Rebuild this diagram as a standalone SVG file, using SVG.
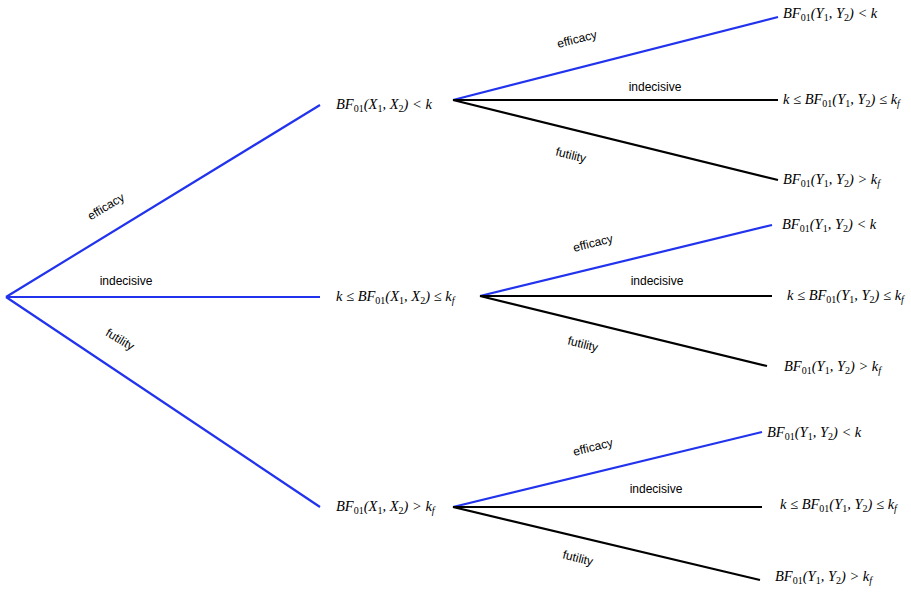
<svg xmlns="http://www.w3.org/2000/svg" width="911" height="593" viewBox="0 0 911 593">
<style>
.b{stroke:#2233ee;stroke-width:2.2;fill:none}
.k{stroke:#000;stroke-width:2.2;fill:none}
.m{font-family:"Liberation Serif",serif;font-style:italic;font-size:14.5px;fill:#000}
.s{font-size:10px;font-style:normal}
.f{font-size:10px}
.l{font-family:"Liberation Sans",Arial,sans-serif;font-size:12px;fill:#000;text-anchor:middle}
</style>
<rect width="911" height="593" fill="#fff"/>
<g id="connectors">
<path class="b" d="M6 297L320 105M6 297H320M6 297L320 507"/>
<path class="b" d="M453 100L778 17"/><path class="k" d="M453 100H778M453 100L778 180"/>
<path class="b" d="M480 296L772 225"/><path class="k" d="M480 296H772M480 296L767 366"/>
<path class="b" d="M453 507L762 432"/><path class="k" d="M453 507H762M453 507L760 580"/>
<text class="l" transform="translate(108,210) rotate(-31)">efficacy</text>
<text class="l" x="126" y="285">indecisive</text>
<text class="l" transform="translate(118,343) rotate(31)">futility</text>
<text class="l" transform="translate(578,43) rotate(-14)">efficacy</text>
<text class="l" x="655" y="91">indecisive</text>
<text class="l" transform="translate(570,159) rotate(14)">futility</text>
<text class="l" transform="translate(594,247) rotate(-14)">efficacy</text>
<text class="l" x="657" y="285">indecisive</text>
<text class="l" transform="translate(582,348) rotate(14)">futility</text>
<text class="l" transform="translate(594,451) rotate(-14)">efficacy</text>
<text class="l" x="656" y="493">indecisive</text>
<text class="l" transform="translate(577,562) rotate(14)">futility</text>
</g>
<g id="n1"><text class="m" x="336" y="109">BF<tspan class="s" dy="3">01</tspan><tspan dy="-3">(X</tspan><tspan class="s" dy="3">1</tspan><tspan dy="-3">, X</tspan><tspan class="s" dy="3">2</tspan><tspan dy="-3">) &lt; k</tspan></text></g>
<g id="n2"><text class="m" x="336" y="301">k ≤ BF<tspan class="s" dy="3">01</tspan><tspan dy="-3">(X</tspan><tspan class="s" dy="3">1</tspan><tspan dy="-3">, X</tspan><tspan class="s" dy="3">2</tspan><tspan dy="-3">) ≤ k</tspan><tspan class="f" dy="3">f</tspan></text></g>
<g id="n3"><text class="m" x="336" y="511">BF<tspan class="s" dy="3">01</tspan><tspan dy="-3">(X</tspan><tspan class="s" dy="3">1</tspan><tspan dy="-3">, X</tspan><tspan class="s" dy="3">2</tspan><tspan dy="-3">) &gt; k</tspan><tspan class="f" dy="3">f</tspan></text></g>
<g id="l1a"><text class="m" x="783" y="18">BF<tspan class="s" dy="3">01</tspan><tspan dy="-3">(Y</tspan><tspan class="s" dy="3">1</tspan><tspan dy="-3">, Y</tspan><tspan class="s" dy="3">2</tspan><tspan dy="-3">) &lt; k</tspan></text></g>
<g id="l1b"><text class="m" x="783" y="104">k ≤ BF<tspan class="s" dy="3">01</tspan><tspan dy="-3">(Y</tspan><tspan class="s" dy="3">1</tspan><tspan dy="-3">, Y</tspan><tspan class="s" dy="3">2</tspan><tspan dy="-3">) ≤ k</tspan><tspan class="f" dy="3">f</tspan></text></g>
<g id="l1c"><text class="m" x="783" y="184">BF<tspan class="s" dy="3">01</tspan><tspan dy="-3">(Y</tspan><tspan class="s" dy="3">1</tspan><tspan dy="-3">, Y</tspan><tspan class="s" dy="3">2</tspan><tspan dy="-3">) &gt; k</tspan><tspan class="f" dy="3">f</tspan></text></g>
<g id="l2a"><text class="m" x="782" y="229">BF<tspan class="s" dy="3">01</tspan><tspan dy="-3">(Y</tspan><tspan class="s" dy="3">1</tspan><tspan dy="-3">, Y</tspan><tspan class="s" dy="3">2</tspan><tspan dy="-3">) &lt; k</tspan></text></g>
<g id="l2b"><text class="m" x="787" y="300">k ≤ BF<tspan class="s" dy="3">01</tspan><tspan dy="-3">(Y</tspan><tspan class="s" dy="3">1</tspan><tspan dy="-3">, Y</tspan><tspan class="s" dy="3">2</tspan><tspan dy="-3">) ≤ k</tspan><tspan class="f" dy="3">f</tspan></text></g>
<g id="l2c"><text class="m" x="784" y="371">BF<tspan class="s" dy="3">01</tspan><tspan dy="-3">(Y</tspan><tspan class="s" dy="3">1</tspan><tspan dy="-3">, Y</tspan><tspan class="s" dy="3">2</tspan><tspan dy="-3">) &gt; k</tspan><tspan class="f" dy="3">f</tspan></text></g>
<g id="l3a"><text class="m" x="767" y="437">BF<tspan class="s" dy="3">01</tspan><tspan dy="-3">(Y</tspan><tspan class="s" dy="3">1</tspan><tspan dy="-3">, Y</tspan><tspan class="s" dy="3">2</tspan><tspan dy="-3">) &lt; k</tspan></text></g>
<g id="l3b"><text class="m" x="780" y="509">k ≤ BF<tspan class="s" dy="3">01</tspan><tspan dy="-3">(Y</tspan><tspan class="s" dy="3">1</tspan><tspan dy="-3">, Y</tspan><tspan class="s" dy="3">2</tspan><tspan dy="-3">) ≤ k</tspan><tspan class="f" dy="3">f</tspan></text></g>
<g id="l3c"><text class="m" x="775" y="581">BF<tspan class="s" dy="3">01</tspan><tspan dy="-3">(Y</tspan><tspan class="s" dy="3">1</tspan><tspan dy="-3">, Y</tspan><tspan class="s" dy="3">2</tspan><tspan dy="-3">) &gt; k</tspan><tspan class="f" dy="3">f</tspan></text></g>
</svg>
